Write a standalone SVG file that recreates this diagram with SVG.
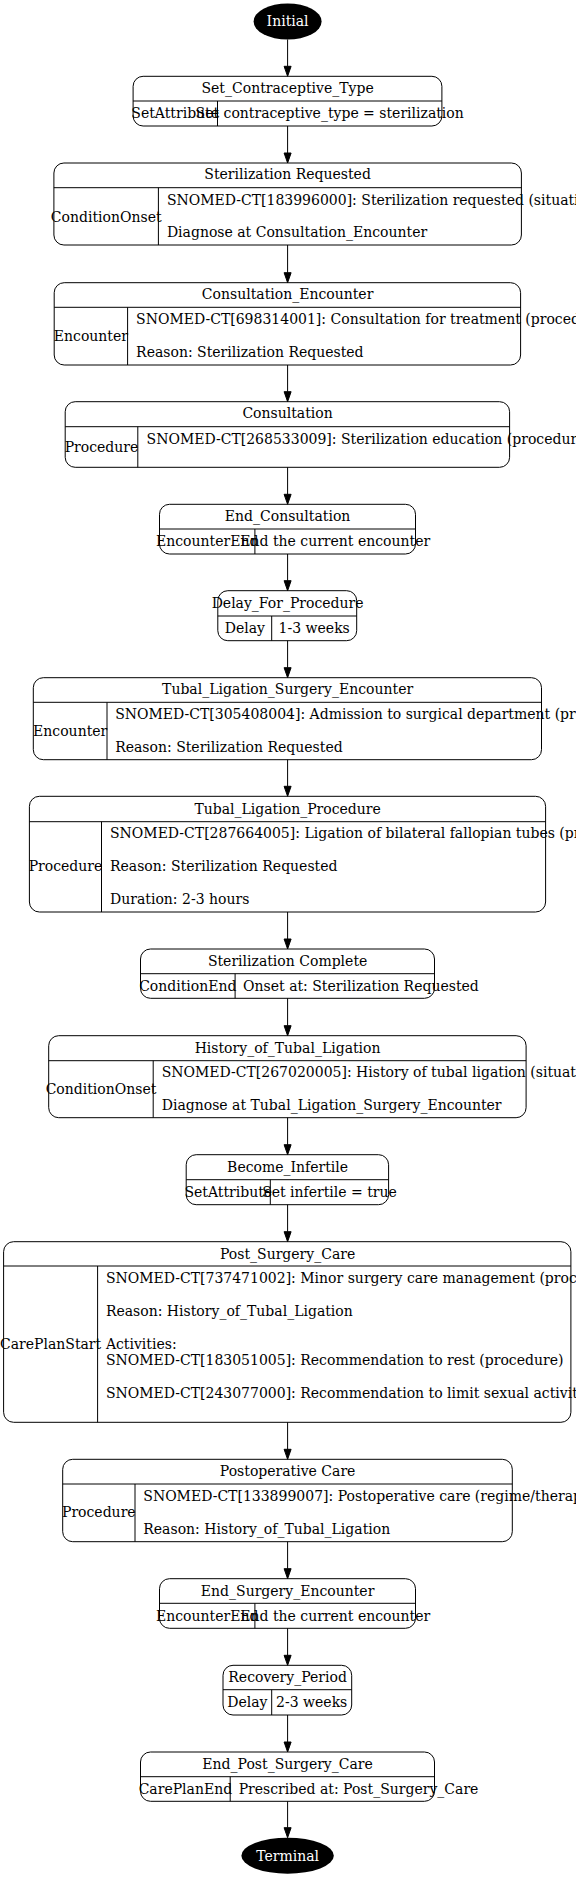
<svg xmlns="http://www.w3.org/2000/svg" width="576" height="1878" viewBox="0 0 576 1878">
<style>
text{font-family:"DejaVu Serif",serif;font-size:14px;fill:#000}
.c{text-anchor:middle}
.w{fill:#fff}
.box{fill:none;stroke:#000;stroke-width:1}
.ln{stroke:#000;stroke-width:1}
.e{stroke:#000;stroke-width:1;fill:none}
.ah{fill:#000;stroke:#000;stroke-width:1}
</style>
<rect width="576" height="1878" fill="#fff"/>
<g id="connectors">
<path class="e" d="M287.6 39.5V66.3"/><path class="ah" d="M287.6 76.3l-3.5-10h7z"/>
<path class="e" d="M287.6 126V153"/><path class="ah" d="M287.6 163l-3.5-10h7z"/>
<path class="e" d="M287.6 245V272.7"/><path class="ah" d="M287.6 282.7l-3.5-10h7z"/>
<path class="e" d="M287.6 365V391.7"/><path class="ah" d="M287.6 401.7l-3.5-10h7z"/>
<path class="e" d="M287.6 467.3V494.3"/><path class="ah" d="M287.6 504.3l-3.5-10h7z"/>
<path class="e" d="M287.6 554V580.7"/><path class="ah" d="M287.6 590.7l-3.5-10h7z"/>
<path class="e" d="M287.6 640.7V667.7"/><path class="ah" d="M287.6 677.7l-3.5-10h7z"/>
<path class="e" d="M287.6 759.7V786.3"/><path class="ah" d="M287.6 796.3l-3.5-10h7z"/>
<path class="e" d="M287.6 912V939"/><path class="ah" d="M287.6 949l-3.5-10h7z"/>
<path class="e" d="M287.6 998.3V1025.7"/><path class="ah" d="M287.6 1035.7l-3.5-10h7z"/>
<path class="e" d="M287.6 1117.7V1144.7"/><path class="ah" d="M287.6 1154.7l-3.5-10h7z"/>
<path class="e" d="M287.6 1204.7V1231.7"/><path class="ah" d="M287.6 1241.7l-3.5-10h7z"/>
<path class="e" d="M287.6 1422.3V1449.3"/><path class="ah" d="M287.6 1459.3l-3.5-10h7z"/>
<path class="e" d="M287.6 1541.7V1568.7"/><path class="ah" d="M287.6 1578.7l-3.5-10h7z"/>
<path class="e" d="M287.6 1628.3V1655.3"/><path class="ah" d="M287.6 1665.3l-3.5-10h7z"/>
<path class="e" d="M287.6 1715V1742"/><path class="ah" d="M287.6 1752l-3.5-10h7z"/>
<path class="e" d="M287.6 1801.3V1827.7"/><path class="ah" d="M287.6 1837.7l-3.5-10h7z"/>
</g>
<g id="Initial">
<ellipse cx="287.6" cy="21.5" rx="34" ry="18" fill="#000"/>
<text class="c w" x="287.6" y="26.3">Initial</text>
</g>
<g id="Set_Contraceptive_Type">
<rect class="box" x="133.1" y="76.3" width="308.8" height="49.7" rx="10"/>
<path class="ln" d="M133.1 101H441.9M217.5 101V126"/>
<text class="c" x="287.6" y="93.3">Set_Contraceptive_Type</text>
<text class="c" x="175.2" y="117.8">SetAttribute</text>
<text class="c" x="329.7" y="117.8">Set contraceptive_type = sterilization</text>
</g>
<g id="Sterilization_Requested">
<rect class="box" x="53.9" y="163" width="467.5" height="82" rx="10"/>
<path class="ln" d="M53.9 187.7H521.4M158.4 187.7V245"/>
<text class="c" x="287.6" y="179.1">Sterilization Requested</text>
<text class="c" x="106.2" y="221.5">ConditionOnset</text>
<text x="166.9" y="204.8">SNOMED-CT[183996000]: Sterilization requested (situation)</text>
<text x="166.9" y="237.1">Diagnose at Consultation_Encounter</text>
</g>
<g id="Consultation_Encounter">
<rect class="box" x="54.2" y="282.7" width="466.4" height="82.3" rx="10"/>
<path class="ln" d="M54.2 307.3H520.6M127.6 307.3V365"/>
<text class="c" x="287.6" y="298.8">Consultation_Encounter</text>
<text class="c" x="90.9" y="340.5">Encounter</text>
<text x="136.1" y="324.1">SNOMED-CT[698314001]: Consultation for treatment (procedure)</text>
<text x="136.1" y="356.5">Reason: Sterilization Requested</text>
</g>
<g id="Consultation">
<rect class="box" x="65.2" y="401.7" width="444.4" height="65.6" rx="10"/>
<path class="ln" d="M65.2 426.7H509.6M137.8 426.7V467.3"/>
<text class="c" x="287.6" y="418.1">Consultation</text>
<text class="c" x="101.5" y="451.5">Procedure</text>
<text x="146.6" y="443.5">SNOMED-CT[268533009]: Sterilization education (procedure)</text>
</g>
<g id="End_Consultation">
<rect class="box" x="159.5" y="504.3" width="256" height="49.7" rx="10"/>
<path class="ln" d="M159.5 529H415.5M254.9 529V554"/>
<text class="c" x="287.6" y="520.8">End_Consultation</text>
<text class="c" x="207.2" y="546.1">EncounterEnd</text>
<text class="c" x="335.2" y="546.1">End the current encounter</text>
</g>
<g id="Delay_For_Procedure">
<rect class="box" x="217.8" y="590.7" width="138.9" height="50" rx="10"/>
<path class="ln" d="M217.8 616H356.7M271.7 616V640.7"/>
<text class="c" x="287.6" y="608.1">Delay_For_Procedure</text>
<text class="c" x="244.8" y="632.5">Delay</text>
<text class="c" x="314.2" y="632.5">1-3 weeks</text>
</g>
<g id="Tubal_Ligation_Surgery_Encounter">
<rect class="box" x="33.3" y="677.7" width="508.2" height="82" rx="10"/>
<path class="ln" d="M33.3 702.3H541.5M107 702.3V759.7"/>
<text class="c" x="287.6" y="694.1">Tubal_Ligation_Surgery_Encounter</text>
<text class="c" x="70.2" y="735.5">Encounter</text>
<text x="115.2" y="719.1">SNOMED-CT[305408004]: Admission to surgical department (procedure)</text>
<text x="115.2" y="751.8">Reason: Sterilization Requested</text>
</g>
<g id="Tubal_Ligation_Procedure">
<rect class="box" x="29.4" y="796.3" width="516.2" height="115.7" rx="10"/>
<path class="ln" d="M29.4 821.7H545.6M101.5 821.7V912"/>
<text class="c" x="287.6" y="813.5">Tubal_Ligation_Procedure</text>
<text class="c" x="65.5" y="870.8">Procedure</text>
<text x="110" y="838.1">SNOMED-CT[287664005]: Ligation of bilateral fallopian tubes (procedure)</text>
<text x="110" y="870.8">Reason: Sterilization Requested</text>
<text x="110" y="903.5">Duration: 2-3 hours</text>
</g>
<g id="Sterilization_Complete">
<rect class="box" x="140.5" y="949" width="294" height="49.3" rx="10"/>
<path class="ln" d="M140.5 973.7H434.5M235.1 973.7V998.3"/>
<text class="c" x="287.6" y="965.8">Sterilization Complete</text>
<text class="c" x="187.8" y="990.5">ConditionEnd</text>
<text x="243.1" y="990.5">Onset at: Sterilization Requested</text>
</g>
<g id="History_of_Tubal_Ligation">
<rect class="box" x="48.7" y="1035.7" width="477.4" height="82" rx="10"/>
<path class="ln" d="M48.7 1060.7H526.1M153.2 1060.7V1117.7"/>
<text class="c" x="287.6" y="1052.5">History_of_Tubal_Ligation</text>
<text class="c" x="101" y="1093.8">ConditionOnset</text>
<text x="161.7" y="1077.1">SNOMED-CT[267020005]: History of tubal ligation (situation)</text>
<text x="161.7" y="1109.8">Diagnose at Tubal_Ligation_Surgery_Encounter</text>
</g>
<g id="Become_Infertile">
<rect class="box" x="186.2" y="1154.7" width="202.4" height="50" rx="10"/>
<path class="ln" d="M186.2 1179.7H388.6M270.3 1179.7V1204.7"/>
<text class="c" x="287.6" y="1171.8">Become_Infertile</text>
<text class="c" x="228.3" y="1196.8">SetAttribute</text>
<text class="c" x="329.5" y="1196.8">Set infertile = true</text>
</g>
<g id="Post_Surgery_Care">
<rect class="box" x="3.6" y="1241.7" width="567.3" height="180.6" rx="10"/>
<path class="ln" d="M3.6 1266H570.9M97.6 1266V1422.3"/>
<text class="c" x="287.6" y="1258.5">Post_Surgery_Care</text>
<text class="c" x="50.6" y="1348.5">CarePlanStart</text>
<text x="105.9" y="1283.1">SNOMED-CT[737471002]: Minor surgery care management (procedure)</text>
<text x="105.9" y="1315.8">Reason: History_of_Tubal_Ligation</text>
<text x="105.9" y="1348.5">Activities:</text>
<text x="105.9" y="1365.1">SNOMED-CT[183051005]: Recommendation to rest (procedure)</text>
<text x="105.9" y="1397.8">SNOMED-CT[243077000]: Recommendation to limit sexual activity (procedure)</text>
</g>
<g id="Postoperative_Care">
<rect class="box" x="62.7" y="1459.3" width="449.6" height="82.4" rx="10"/>
<path class="ln" d="M62.7 1484H512.3M135 1484V1541.7"/>
<text class="c" x="287.6" y="1476.1">Postoperative Care</text>
<text class="c" x="98.8" y="1517.1">Procedure</text>
<text x="143.3" y="1500.8">SNOMED-CT[133899007]: Postoperative care (regime/therapy)</text>
<text x="143.3" y="1533.5">Reason: History_of_Tubal_Ligation</text>
</g>
<g id="End_Surgery_Encounter">
<rect class="box" x="159.5" y="1578.7" width="256" height="49.6" rx="10"/>
<path class="ln" d="M159.5 1603.3H415.5M254.9 1603.3V1628.3"/>
<text class="c" x="287.6" y="1595.5">End_Surgery_Encounter</text>
<text class="c" x="207.2" y="1620.5">EncounterEnd</text>
<text class="c" x="335.2" y="1620.5">End the current encounter</text>
</g>
<g id="Recovery_Period">
<rect class="box" x="223" y="1665.3" width="128.7" height="49.7" rx="10"/>
<path class="ln" d="M223 1689.7H351.7M271.7 1689.7V1715"/>
<text class="c" x="287.6" y="1681.8">Recovery_Period</text>
<text class="c" x="247.3" y="1706.8">Delay</text>
<text class="c" x="311.7" y="1706.8">2-3 weeks</text>
</g>
<g id="End_Post_Surgery_Care">
<rect class="box" x="140.5" y="1752" width="294" height="49.3" rx="10"/>
<path class="ln" d="M140.5 1776.7H434.5M230.2 1776.7V1801.3"/>
<text class="c" x="287.6" y="1768.5">End_Post_Surgery_Care</text>
<text class="c" x="185.4" y="1793.5">CarePlanEnd</text>
<text x="238.7" y="1793.5">Prescribed at: Post_Surgery_Care</text>
</g>
<g id="Terminal">
<ellipse cx="287.6" cy="1855.7" rx="46.2" ry="18" fill="#000"/>
<text class="c w" x="287.6" y="1860.5">Terminal</text>
</g>
</svg>
